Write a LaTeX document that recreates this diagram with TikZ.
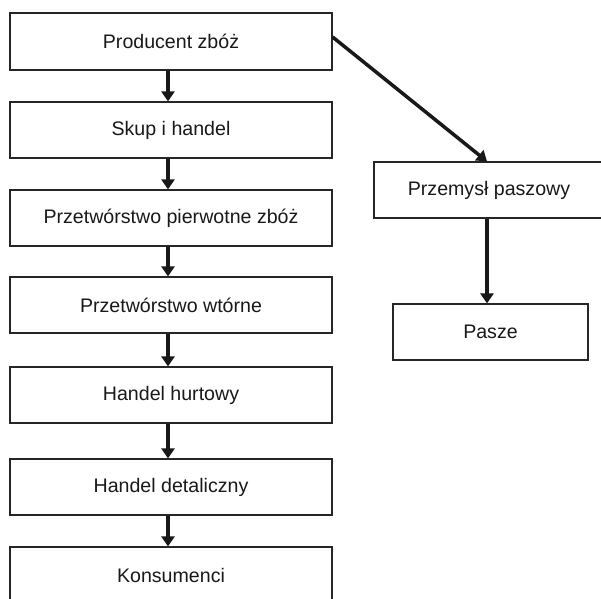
\documentclass[tikz,border=0pt]{standalone}
\usepackage{fontspec}
\setmainfont{Liberation Sans}
\usetikzlibrary{arrows.meta}
\begin{document}
\begin{tikzpicture}[x=1pt,y=-1pt,
  stagebox/.style={draw=black!85, line width=1.2pt, rectangle, inner sep=0pt,
    minimum height=56pt, text=black!90,
    font=\fontsize{19.6}{23}\selectfont},
  chainbox/.style={stagebox, minimum width=322pt},
  flow/.style={line width=3.5pt, black!90, -{Triangle[width=13pt,length=10pt]}}]
\useasboundingbox (0,0) rectangle (601,598);
\clip (0,0) rectangle (601,598);
\fill[white] (0,0) rectangle (601,598);

% main chain
\node[chainbox, minimum height=57pt] (prod) at (171,41.5) {Producent zbóż};
\node[chainbox] (skup) at (171,130) {Skup i handel};
\node[chainbox] (pierw) at (171,218) {Przetwórstwo pierwotne zbóż};
\node[chainbox] (wtor) at (171,305) {Przetwórstwo wtórne};
\node[chainbox] (hurt) at (171,395) {Handel hurtowy};
\node[chainbox] (det) at (171,487) {Handel detaliczny};
\node[chainbox] (kons) at (171,575) {Konsumenci};

% feed branch
\node[stagebox, minimum width=230pt] (pasz) at (489,190) {Przemysł paszowy};
\node[stagebox, minimum width=195pt] (pasze) at (490.5,332) {Pasze};

% connectors
\draw[flow] ([xshift=-3pt]prod.south) -- ([xshift=-3pt]skup.north);
\draw[flow] ([xshift=-3pt]skup.south) -- ([xshift=-3pt]pierw.north);
\draw[flow] ([xshift=-3pt]pierw.south) -- ([xshift=-3pt]wtor.north);
\draw[flow] ([xshift=-3pt]wtor.south) -- ([xshift=-3pt]hurt.north);
\draw[flow] ([xshift=-3pt]hurt.south) -- ([xshift=-3pt]det.north);
\draw[flow] ([xshift=-3pt]det.south) -- ([xshift=-3pt]kons.north);
\draw[flow] ([yshift=4.5pt]prod.east) -- ([xshift=-2pt]pasz.north);
\draw[flow] ([xshift=-2pt]pasz.south) -- ([xshift=-3.5pt]pasze.north);
\end{tikzpicture}
\end{document}
